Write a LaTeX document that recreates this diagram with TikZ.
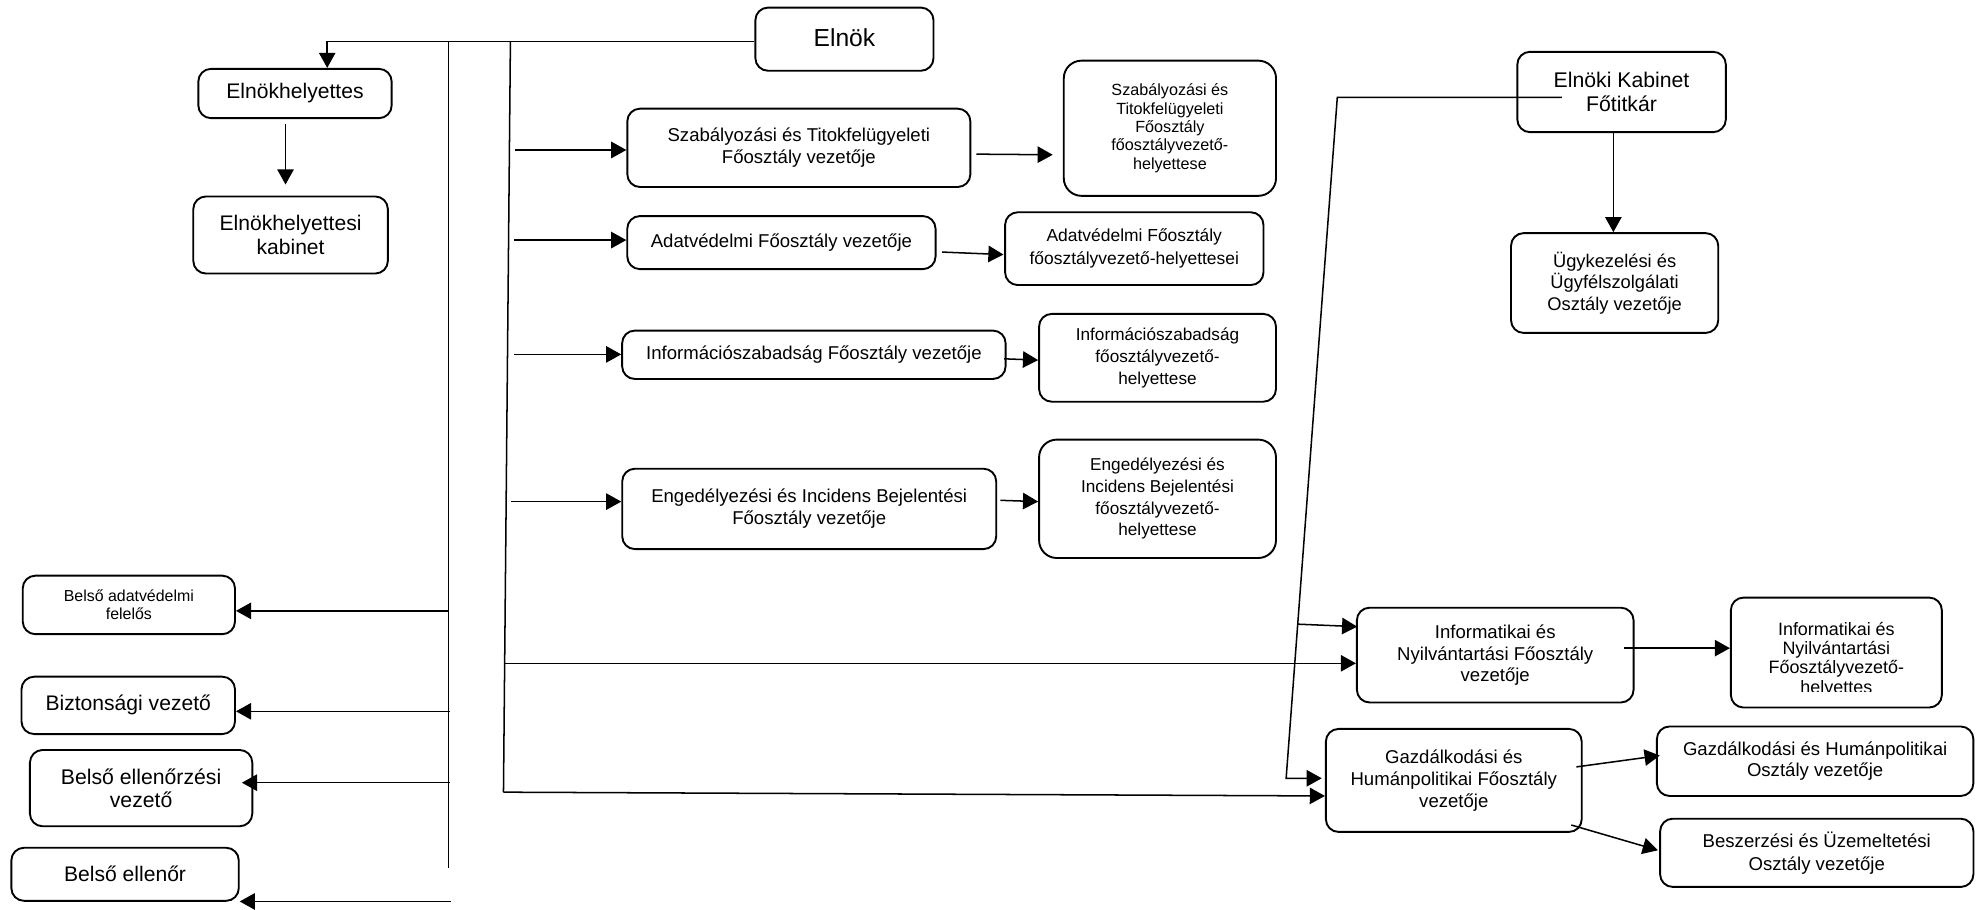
\documentclass[tikz,border=0pt]{standalone}
\usepackage{fontspec}
\setmainfont{Liberation Sans}
\usetikzlibrary{arrows.meta,calc}
\begin{document}
\begin{tikzpicture}[x=0.5pt,y=-0.5pt,
 box/.style={draw, line width=0.75pt, rounded corners=5pt, inner sep=0pt, align=center},
 bigbox/.style={box, rounded corners=7pt},
 sz/.style 2 args={minimum width=#1*0.5pt, minimum height=#2*0.5pt},
 fStd/.style={font=\fontsize{7.35pt}{8.6pt}\selectfont},
 fBig/.style={font=\fontsize{8.35pt}{9.5pt}\selectfont},
 fTop/.style={font=\fontsize{9.75pt}{11pt}\selectfont},
 fDep/.style={font=\fontsize{6.8pt}{8.6pt}\selectfont},
 fSm/.style={font=\fontsize{6.4pt}{7.25pt}\selectfont},
 ln/.style={line width=0.6pt},
 arr/.style={ln, -{Triangle[length=6pt,width=6.5pt]}},
]
\useasboundingbox (0,0) rectangle (1568,720);

% nodes
\node[box, sz={141}{50}, fTop] (elnok) at (668.4,31) {\raisebox{1.6pt}{Elnök}};
\node[box, sz={153}{39}, fBig] (eh) at (233.5,74) {Elnökhelyettes};
\node[box, sz={154}{61}, font=\fontsize{8.35pt}{9.8pt}\selectfont] (ehk) at (230,186) {Elnökhelyettesi\\kabinet};
\node[box, sz={271.5}{62}, fStd] (szab) at (632.3,117) {Szabályozási és Titokfelügyeleti\\Főosztály vezetője};
\node[bigbox, sz={168}{107}, fSm] (szabd) at (926,101.5) {Szabályozási és\\Titokfelügyeleti\\Főosztály\\főosztályvezető-\\helyettese};
\node[box, sz={244}{42}, fStd] (adat) at (618.5,192) {Adatvédelmi Főosztály vezetője};
\node[box, sz={204.5}{57.6}, font=\fontsize{6.9pt}{9.2pt}\selectfont] (adatd) at (897.8,196.8) {Adatvédelmi Főosztály\\főosztályvezető-helyettesei};
\node[box, sz={303.5}{38.3}, fStd] (info) at (644.2,280.8) {Információszabadság Főosztály vezetője};
\node[box, sz={187.5}{69.5}, fDep] (infod) at (916.2,283.2) {Információszabadság\\főosztályvezető-\\helyettese};
\node[box, sz={296}{63.6}, fStd] (eng) at (640.5,402.8) {Engedélyezési és Incidens Bejelentési\\Főosztály vezetője};
\node[bigbox, sz={187.5}{93.7}, fDep] (engd) at (916.2,394.8) {Engedélyezési és\\Incidens Bejelentési\\főosztályvezető-\\helyettese};
\node[box, sz={165}{63.6}, font=\fontsize{8.4pt}{9.8pt}\selectfont] (kab) at (1283.5,72.8) {Elnöki Kabinet\\Főtitkár};
\node[box, sz={164}{79}, font=\fontsize{7.25pt}{8.5pt}\selectfont] (ugy) at (1278,224) {Ügykezelési és\\Ügyfélszolgálati\\Osztály vezetője};
\node[box, sz={219}{75}, fStd] (inf) at (1183.5,518.5) {Informatikai és\\Nyilvántartási Főosztály\\vezetője};
\node[box, sz={167}{87}] (infd) at (1453.5,516.5) {};
\begin{scope}
\clip (1372,475) rectangle (1535,547.5);
\node[inner sep=0pt, align=center, font=\fontsize{7.1pt}{7.6pt}\selectfont] (infdtext) at (1453.5,522) {Informatikai és\\Nyilvántartási\\Főosztályvezető-\\helyettes};
\end{scope}
\node[box, sz={202.5}{81.5}, fStd] (gazd) at (1150.7,617.7) {Gazdálkodási és\\Humánpolitikai Főosztály\\vezetője};
\node[box, sz={250.5}{55}, fStd] (gh) at (1436.7,602.5) {Gazdálkodási és Humánpolitikai\\Osztály vezetője};
\node[box, sz={248}{54}, font=\fontsize{7.35pt}{9.2pt}\selectfont] (besz) at (1438,675) {Beszerzési és Üzemeltetési\\Osztály vezetője};
\node[box, sz={168}{46.3}, font=\fontsize{6.3pt}{7pt}\selectfont] (bad) at (102,478.8) {Belső adatvédelmi\\felelős};
\node[box, sz={169}{45.4}, fBig] (bizt) at (101.5,558.3) {Biztonsági vezető};
\node[box, sz={176}{60.4}, font=\fontsize{8.4pt}{9.2pt}\selectfont] (bev) at (111.7,623.8) {Belső ellenőrzési\\vezető};
\node[box, sz={180}{42}, fBig] (be) at (99,692) {Belső ellenőr};

% trunk lines
\coordinate (topL) at (259,33);
\draw[arr] (elnok.west |- topL) -- (topL) -- (topL |- eh.north);
\coordinate (v1t) at (355,33);
\coordinate (v1b) at (355,687);
\draw[ln] (v1t) -- (v1b);
\coordinate (v2t) at (404,33);
\coordinate (v2b) at (398.5,627);
\draw[ln] (v2t) -- (v2b);

\draw[arr] ($(eh.south)+(-7.5,4)$) -- ($(ehk.north)+(-4,-8.7)$);

% left branch
\coordinate (l1) at (355,483.5);
\draw[arr] (l1) -- (l1 -| bad.east);
\coordinate (l2) at (356,563);
\draw[arr] (l2) -- (l2 -| bizt.east);
\coordinate (l3) at (356,619.5);
\draw[arr] (l3) -- ($(l3 -| bev.east)+(-9,0)$);
\coordinate (l4) at (356.7,713.5);
\draw[arr] (l4) -- (l4 -| be.east);

% right branch
\coordinate (r1) at (408,118.7);
\draw[arr] (r1) -- (r1 -| szab.west);
\coordinate (r2) at (407,190);
\draw[arr] (r2) -- (r2 -| adat.west);
\coordinate (r3) at (407,280.5);
\draw[arr] (r3) -- (r3 -| info.west);
\coordinate (r4) at (404.6,397);
\draw[arr] (r4) -- (r4 -| eng.west);
\coordinate (r5) at (399,525);
\draw[arr] (r5) -- (r5 -| inf.west);
\coordinate (r6) at (398.5,627);
\draw[arr] (r6) -- ($(gazd.west)+(0,12.3)$);

% deputies
\draw[arr] ($(szab.east)+(4,5)$) -- ($(szabd.west)+(-8,21)$);
\draw[arr] ($(adat.east)+(4.4,7.5)$) -- ($(adatd.west)+(-0.5,4.7)$);
\draw[arr] ($(info.east)+(-2,3.2)$) -- ($(infod.west)+(0,1.8)$);
\draw[arr] ($(eng.east)+(2.5,-6.8)$) -- ($(engd.west)+(0,2.2)$);

% cabinet
\coordinate (k1) at (1058.5,77);
\coordinate (k2) at (1018,616);
\draw[arr] ($(kab.west)+(36,4.2)$) -- (k1) -- (k2) -- ($(gazd.west)+(-2.5,-1.7)$);
\draw[arr] ($(k1)!0.7737!(k2)$) -- ($(inf.west)+(1,-22.5)$);
\draw[arr] ($(kab.south)+(-6.5,0)$) -- ($(ugy.north)+(-1,0)$);

\draw[arr] ($(inf.east)+(-8,-5.5)$) -- ($(infd.west)+(0,-3.5)$);
\draw[arr] ($(gazd.east)+(-5,-10.7)$) -- ($(gh.west)+(3,-4.5)$);
\draw[arr] ($(gazd.east)+(-9,35.3)$) -- ($(besz.west)+(-1,-2)$);
\end{tikzpicture}
\end{document}
